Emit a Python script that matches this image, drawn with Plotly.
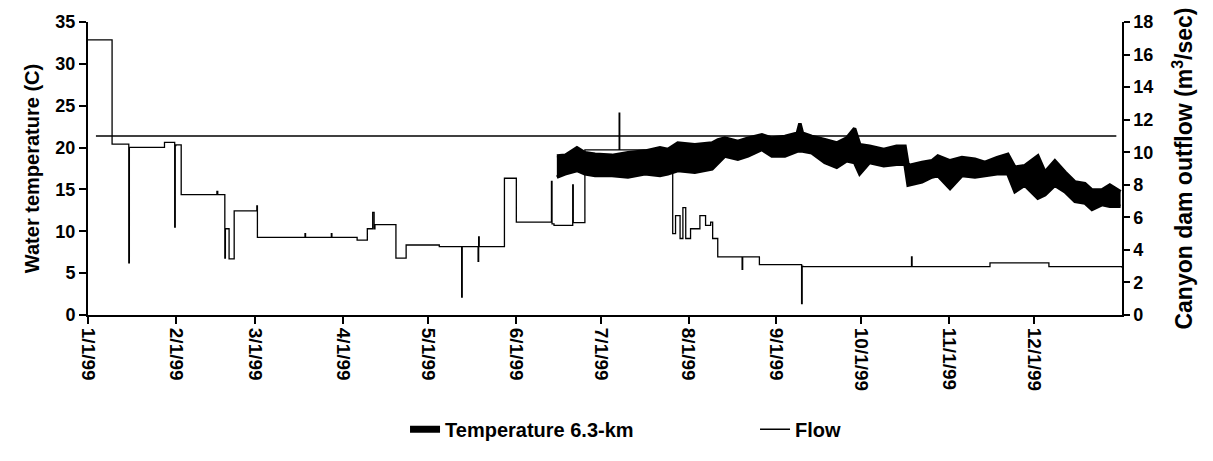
import plotly.graph_objects as go
import pandas as pd

# ---- data (days since 1999-01-01) ----
flow_day = [0, 8.5, 14.4, 14.6, 15, 27, 30.6, 30.8, 31, 32.9, 45.5, 45.8, 48.3, 48.5, 49.8, 51.6,
            59.6, 59.8, 76.6, 76.8, 77, 85.9, 86.1, 86.3, 95, 98.6, 100.5, 101, 101.3, 108.7,
            112.3, 124, 131.9, 132.1, 132.3, 137.7, 137.9, 138.1, 147, 151.2, 163.6, 163.8, 164.5,
            171.1, 171.3, 175.4, 187.5, 187.7, 187.9, 206.4, 207.4, 209, 210, 211, 212.7, 216,
            218, 219.8, 220.5, 222.3, 230.9, 231.1, 231.3, 237, 251.9, 252.1, 252.3, 290.7,
            290.9, 291.1, 318.4, 339.2, 365]
flow_val = [16.9, 10.5, 3.2, 10.3, 10.3, 10.6, 5.4, 10.4, 10.45, 7.4, 7.6, 7.4, 3.5, 5.3, 3.45, 6.4,
            6.7, 4.77, 5.0, 4.77, 4.77, 5.0, 4.77, 4.77, 4.6, 5.3, 6.3, 5.3, 5.55, 3.5,
            4.3, 4.2, 1.1, 4.2, 4.2, 3.3, 4.8, 4.2, 8.4, 5.7, 8.2, 5.6, 5.5,
            8.0, 5.67, 10.15, 12.4, 10.15, 10.15, 5.0, 6.1, 4.7, 6.6, 4.7, 5.3, 6.1,
            5.5, 5.7, 4.7, 3.57, 2.8, 3.57, 3.57, 3.1, 0.7, 3.0, 2.97, 3.57,
            2.97, 2.97, 3.2, 2.97, 2.9]

temp_day = [165.5, 168.4, 172.6, 175.4, 179.0, 185.0, 190.6, 196.6, 201.9, 204.7, 208.2, 214.2,
            220.3, 222.4, 224.8, 229.4, 233.0, 237.9, 241.4, 246.0, 250.4, 251.3, 252.2, 255.5,
            260.1, 264.3, 267.8, 270.6, 272.4, 275.9, 280.9, 285.4, 288.4, 289.5, 294.4, 297.9,
            300.0, 304.3, 308.5, 313.1, 316.6, 320.9, 324.7, 327.2, 330.7, 335.3, 337.8, 341.3,
            344.9, 348.4, 351.9, 354.4, 357.9, 360.7, 364.5]
temp_hi = [19.0, 19.07, 19.97, 19.38, 19.19, 19.07, 19.38, 19.58, 19.97, 19.77, 20.55, 20.35,
           20.55, 20.93, 21.13, 20.74, 21.13, 21.51, 21.13, 21.33, 21.71, 22.87, 21.71, 21.33,
           20.93, 20.55, 21.13, 22.29, 20.35, 20.16, 19.77, 20.16, 20.16, 17.84, 18.22, 18.42,
           19.0, 18.42, 18.80, 18.60, 18.22, 18.80, 19.19, 17.64, 17.84, 19.0, 17.06, 18.42,
           17.06, 15.9, 15.7, 14.93, 14.93, 15.51, 14.73]
temp_lo = [16.48, 16.86, 17.26, 16.86, 16.67, 16.67, 16.48, 16.86, 16.67, 16.86, 17.26, 17.06,
           17.44, 18.22, 19.0, 18.60, 19.0, 19.77, 19.0, 19.0, 19.58, 19.58, 19.58, 19.38,
           18.22, 17.64, 18.42, 18.22, 16.86, 18.22, 17.84, 18.02, 18.02, 15.51, 15.9, 16.48,
           16.67, 15.12, 16.67, 16.48, 16.67, 16.86, 16.86, 14.73, 15.51, 13.95, 14.35, 15.51,
           14.73, 13.57, 13.37, 12.6, 13.19, 12.99, 12.99]

ref_day = [2.8, 363]
ref_flow = [11.0, 11.0]

temp_ticks = [0, 5, 10, 15, 20, 25, 30, 35]
flow_ticks = [0, 2, 4, 6, 8, 10, 12, 14, 16, 18]
month_ticks = ["1999-%02d-01" % m for m in range(1, 13)]
month_labels = ["%d/1/99" % m for m in range(1, 13)]

base = pd.Timestamp("1999-01-01")
def to_dates(days):
    return [base + pd.Timedelta(days=float(d)) for d in days]

BLACK = "#000000"
FONT = "Liberation Sans, Arial, sans-serif"
def b(s):
    return "<b>%s</b>" % s

fig = go.Figure()
# flow (thin line, right axis)
fig.add_trace(go.Scatter(x=to_dates(flow_day), y=flow_val, yaxis="y2", mode="lines",
                         line=dict(color=BLACK, width=1.3, shape="hv"), showlegend=False))
# reference horizontal line
fig.add_trace(go.Scatter(x=to_dates(ref_day), y=ref_flow, yaxis="y2", mode="lines",
                         line=dict(color=BLACK, width=1.6), showlegend=False))
# temperature band (daily range)
fig.add_trace(go.Scatter(x=to_dates(temp_day), y=temp_hi, mode="lines",
                         line=dict(color=BLACK, width=3.5), showlegend=False))
fig.add_trace(go.Scatter(x=to_dates(temp_day), y=temp_lo, mode="lines", fill="tonexty",
                         fillcolor=BLACK, line=dict(color=BLACK, width=3.5),
                         showlegend=False))
# legend entries
fig.add_trace(go.Scatter(x=[None], y=[None], mode="lines", line=dict(color=BLACK, width=7),
                         name=b("Temperature 6.3-km"), legendrank=1))
fig.add_trace(go.Scatter(x=[None], y=[None], mode="lines", line=dict(color=BLACK, width=1.3),
                         name=b("Flow"), legendrank=2))

tickfont = dict(family=FONT, size=18, color=BLACK)
fig.update_layout(
    width=1213, height=461,
    margin=dict(l=88, r=91, t=16, b=144),
    paper_bgcolor="white", plot_bgcolor="white",
    font=dict(family=FONT, color=BLACK),
    xaxis=dict(range=["1999-01-01", "2000-01-01"], tickvals=month_ticks,
               ticktext=[b(t) for t in month_labels],
               tickangle=90, ticks="outside", ticklen=7, tickwidth=1.5, tickcolor=BLACK,
               showline=True, linecolor=BLACK, linewidth=2, showgrid=False, zeroline=False,
               tickfont=dict(family=FONT, size=19, color=BLACK)),
    yaxis=dict(range=[0, 35], tickvals=temp_ticks, ticktext=[b(t) for t in temp_ticks],
               ticks="outside", ticklen=7, tickwidth=1.5,
               tickcolor=BLACK, showline=True, linecolor=BLACK, linewidth=2, showgrid=False,
               zeroline=False, tickfont=tickfont,
               title=dict(text=b("Water temperature (C)"), standoff=10,
                          font=dict(family=FONT, size=20, color=BLACK))),
    yaxis2=dict(range=[0, 18], tickvals=flow_ticks, ticktext=[b(t) for t in flow_ticks],
                overlaying="y", side="right", ticks="outside",
                ticklen=6, tickwidth=1.5, tickcolor=BLACK, showline=True, linecolor=BLACK,
                linewidth=1.5, showgrid=False, zeroline=False, tickfont=tickfont,
                title=dict(text=b("Canyon dam outflow (m<sup>3</sup>/sec)"), standoff=24,
                           font=dict(family=FONT, size=23, color=BLACK))),
    legend=dict(orientation="h", x=0.3066, xanchor="left", y=-0.39, yanchor="middle",
                font=dict(family=FONT, size=20, color=BLACK), traceorder="normal",
                bgcolor="rgba(0,0,0,0)", itemwidth=30, entrywidth=305,
                entrywidthmode="pixels"),
)

fig.write_html("out.html")
